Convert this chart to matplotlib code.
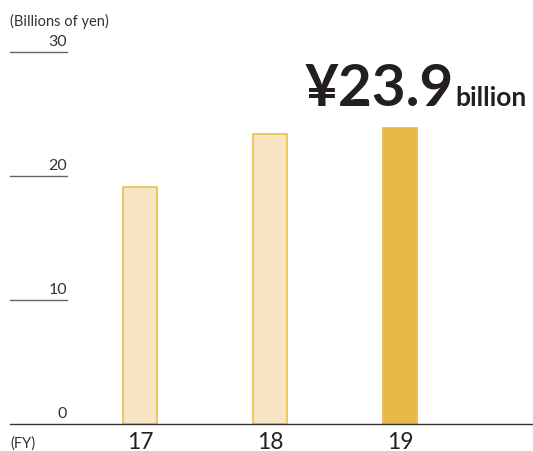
import matplotlib
matplotlib.use("Agg")
import matplotlib.pyplot as plt

# Fiscal-year values, billions of yen
years = ["17", "18", "19"]
values = [19.1, 23.4, 23.9]
y_ticks = [0, 10, 20, 30]
headline_value = 23.9

plt.rcParams['font.family'] = ['Lato', 'DejaVu Sans']

W, H = 533, 452
fig = plt.figure(figsize=(W / 100, H / 100), dpi=100)

# axes spanning from the left margin to the right edge; y from 0 (px 425) to 30 (px 53)
left_px, right_px, top_px, bottom_px = 10, 533, 53, 425
ax = fig.add_axes([left_px / W, 1 - bottom_px / H,
                   (right_px - left_px) / W, (bottom_px - top_px) / H])
ax.set_ylim(0, 30)
ax.set_xlim(-1.0, 3.023)
ax.axis('off')

light_fill, light_edge = '#F6E4C2', '#EBBF4C'
strong_fill = '#E7BA45'
x = list(range(len(years)))
fills = [light_fill, light_fill, strong_fill]
edges = [light_edge, light_edge, strong_fill]
ax.bar(x, values, width=0.26, color=fills, edgecolor=edges, linewidth=1.2, zorder=2)

# short reference rules under the value labels, full-width baseline at zero
ytr = ax.get_yaxis_transform()
rule_end = 0.109
for v in y_ticks:
    if v == 0:
        ax.plot([0, 1], [0, 0], transform=ytr, color='#333333', lw=1.0,
                clip_on=False, zorder=3)
    else:
        ax.plot([0, rule_end], [v, v], transform=ytr, color='#666666', lw=1.0,
                clip_on=False, zorder=3)
    ax.text(rule_end, v + 0.3, str(v), transform=ytr, ha='right', va='bottom',
            fontsize=11.5, color='#333333')

ax.text(0, 31.9, '(Billions of yen)', transform=ytr, ha='left', va='bottom',
        fontsize=10.5, color='#333333')

# category labels beneath the baseline
for xi, lab in zip(x, years):
    ax.text(xi, -0.6, lab, ha='center', va='top', fontsize=16.5, color='#222222')
ax.text(0, -0.9, '(FY)', transform=ytr, ha='left', va='top',
        fontsize=10.5, color='#333333')

# headline figure
fig.text(305 / W, 1 - 106 / H, f'¥{headline_value}', ha='left', va='baseline',
         fontsize=42, fontweight='bold', color='#231F20')
fig.text(455 / W, 1 - 106 / H, 'billion', ha='left', va='baseline',
         fontsize=19, fontweight='bold', color='#231F20')

fig.savefig('out.png', dpi=100)
